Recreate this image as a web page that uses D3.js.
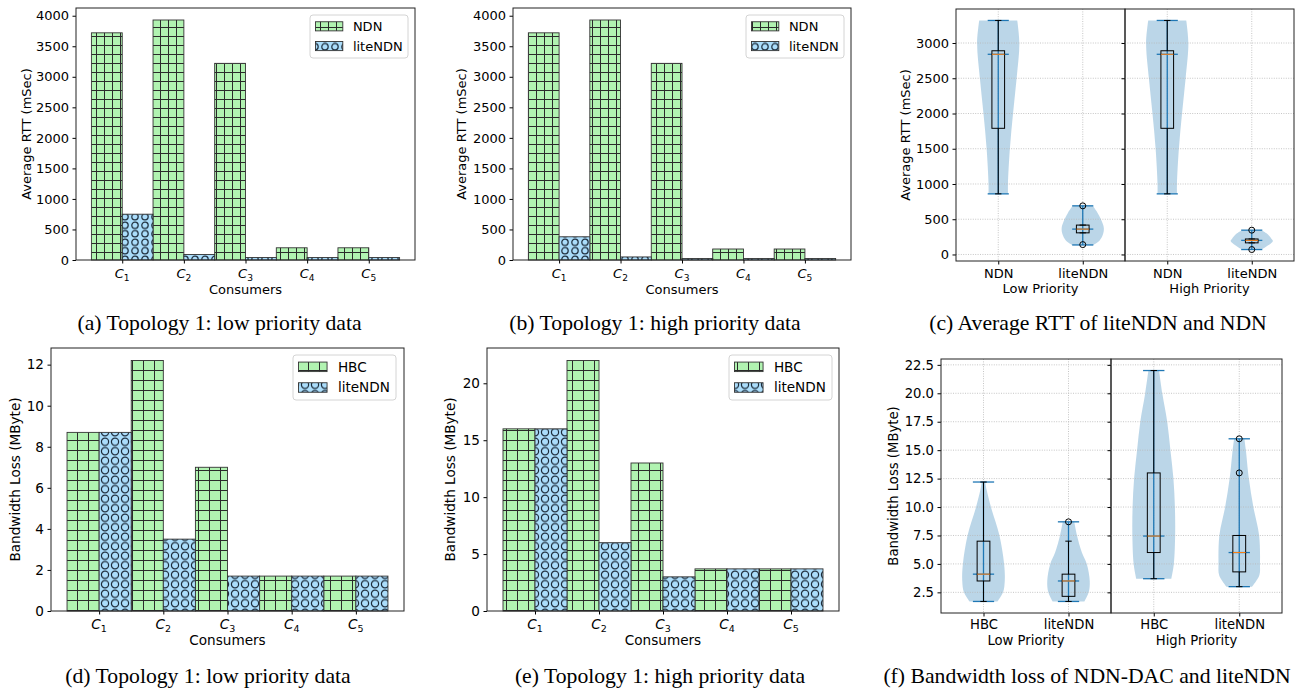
<!DOCTYPE html>
<html lang="en">
<head>
  <meta charset="UTF-8">
  <title>liteNDN evaluation</title>
  <script src="https://d3js.org/d3.v7.min.js"></script>
  <style>
    body { margin: 0; background: white; }
    svg text { font-family: "DejaVu Sans", sans-serif; fill: #000; }
    svg text.caption { font-family: "Liberation Serif", "Times New Roman", serif; font-size: 21.7px; }
  </style>
</head>
<body>
  <svg id="fig" width="1306" height="694"></svg>

  <script>
    // ---- data ----
    var consumers = ["1", "2", "3", "4", "5"];

    // (a) / (b) average RTT per consumer
    var rttLowNDN = [3720, 3930, 3220, 200, 200];
    var rttLowLite = [750, 90, 40, 40, 40];
    var rttHighNDN = [3720, 3930, 3220, 180, 180];
    var rttHighLite = [380, 50, 25, 25, 25];

    // (d) / (e) bandwidth loss per consumer
    var bwLowHBC = [8.7, 12.2, 7.0, 1.7, 1.7];
    var bwLowLite = [8.7, 3.5, 1.7, 1.7, 1.7];
    var bwHighHBC = [16, 22, 13, 3.7, 3.7];
    var bwHighLite = [16, 6.0, 3.0, 3.7, 3.7];

    // violin + box stats: box = [whisker low, q1, median, q3, whisker high]
    // shape = [value, relative half width]
    var rttLowNDNBox = [860, 1790, 2840, 2890, 3320];
    var rttLowNDNShape = [[860, 0.46], [1000, 0.46], [1500, 0.55], [2000, 0.7], [2500, 0.87], [3000, 1.0], [3320, 0.9]];
    var rttLowLiteBox = [307, 307, 360, 417, 417];
    var rttLowLiteShape = [[135, 0.5], [200, 0.8], [280, 0.95], [370, 1.0], [450, 0.93], [585, 0.71], [690, 0.48]];
    var rttLowLiteFliers = [140, 690];
    var rttHighNDNBox = [860, 1790, 2840, 2890, 3320];
    var rttHighNDNShape = [[860, 0.46], [1000, 0.46], [1500, 0.55], [2000, 0.7], [2500, 0.87], [3000, 1.0], [3320, 0.9]];
    var rttHighLiteBox = [165, 165, 200, 220, 220];
    var rttHighLiteShape = [[70, 0.47], [130, 0.78], [190, 1.0], [220, 0.94], [300, 0.7], [345, 0.45]];
    var rttHighLiteFliers = [70, 345];

    var bwLowHBCBox = [1.7, 3.5, 4.1, 7.0, 12.2];
    var bwLowHBCShape = [[1.7, 0.66], [2.5, 0.92], [3.5, 1.0], [5.0, 0.97], [7.5, 0.75], [10.0, 0.35], [11.5, 0.15], [12.2, 0.08]];
    var bwLowLiteBox = [1.7, 2.15, 3.5, 4.1, 7.0];
    var bwLowLiteShape = [[1.7, 0.75], [2.5, 0.95], [3.5, 1.0], [5.0, 0.86], [6.0, 0.63], [7.5, 0.4], [8.7, 0.27]];
    var bwLowLiteFliers = [8.7];
    var bwHighHBCBox = [3.7, 6.0, 7.45, 13.0, 22.0];
    var bwHighHBCShape = [[3.7, 0.82], [5.0, 0.94], [7.5, 1.0], [10, 0.99], [12.5, 0.92], [15, 0.78], [17.5, 0.63], [20, 0.4], [22, 0.25]];
    var bwHighLiteBox = [3.0, 4.3, 6.0, 7.5, 7.5];
    var bwHighLiteShape = [[3.0, 0.6], [4.0, 0.94], [5.0, 0.97], [7.5, 0.93], [10, 0.66], [12.5, 0.45], [15, 0.31], [16, 0.24]];
    var bwHighLiteFliers = [13, 16];

    var green = "#b1f3b1";
    var blue = "#abddfb";
    var c0 = "#1f77b4";
    var c1 = "#ff7f0e";

    var svg = d3.select("#fig");
    var defs = svg.append("defs");

    function plusPattern(id, w, h) {
      var pat = defs.append("pattern").attr("id", id)
        .attr("patternUnits", "userSpaceOnUse").attr("width", w).attr("height", h);
      pat.append("rect").attr("width", w).attr("height", h).attr("fill", green);
      pat.append("line").attr("x1", 0.5).attr("x2", 0.5).attr("y1", 0).attr("y2", h)
        .attr("stroke", "#2a2a2a").attr("stroke-width", 1);
      pat.append("line").attr("y1", 0.5).attr("y2", 0.5).attr("x1", 0).attr("x2", w)
        .attr("stroke", "#2a2a2a").attr("stroke-width", 1);
    }

    function circlePattern(id, w, h, r) {
      var pat = defs.append("pattern").attr("id", id)
        .attr("patternUnits", "userSpaceOnUse").attr("width", w).attr("height", h);
      pat.append("rect").attr("width", w).attr("height", h).attr("fill", blue);
      pat.append("circle").attr("cx", w / 2).attr("cy", h / 2).attr("r", r)
        .attr("fill", "none").attr("stroke", "#1c2b3a").attr("stroke-width", 1.2);
    }

    plusPattern("plusTop", 8, 9);
    circlePattern("circTop", 10, 8.5, 3.2);
    plusPattern("plusBot", 11, 10);
    circlePattern("circBot", 10, 9.5, 3.6);

    function caption(text, x, y) {
      svg.append("text").attr("class", "caption")
        .attr("x", x).attr("y", y).attr("text-anchor", "middle").text(text);
    }

    function styleAxis(sel, fs) {
      sel.select(".domain").remove();
      sel.selectAll("text").style("font-size", fs + "px").style("font-family", "DejaVu Sans");
      sel.selectAll("line").attr("stroke", "#000");
    }

    function drawBars(p) {
      var x = d3.scaleLinear().domain([0.25, 5.75]).range([p.left, p.right]);
      var y = d3.scaleLinear().domain([0, d3.max(p.a.concat(p.b)) * 1.05]).range([p.bottom, p.top]);
      var g = svg.append("g");
      var bw = x(1) - x(0.5);

      g.selectAll(".barA").data(p.a).join("rect")
        .attr("x", (d, i) => x(i + 0.5)).attr("width", bw)
        .attr("y", d => y(d)).attr("height", d => y(0) - y(d))
        .attr("fill", "url(#" + p.plus + ")").attr("stroke", "#333").attr("stroke-width", 0.9);
      g.selectAll(".barB").data(p.b).join("rect")
        .attr("x", (d, i) => x(i + 1)).attr("width", bw)
        .attr("y", d => y(d)).attr("height", d => y(0) - y(d))
        .attr("fill", "url(#" + p.circ + ")").attr("stroke", "#333").attr("stroke-width", 0.9);

      var ax = g.append("g").attr("transform", "translate(0," + p.bottom + ")")
        .call(d3.axisBottom(x).tickValues([1, 2, 3, 4, 5]).tickFormat("").tickSize(3.5));
      styleAxis(ax, p.fs);
      var ay = g.append("g").attr("transform", "translate(" + p.left + ",0)")
        .call(d3.axisLeft(y).tickValues(p.ticks).tickFormat(p.fmt).tickSize(3.5).tickPadding(3.5));
      styleAxis(ay, p.fs);

      g.append("rect").attr("x", p.left).attr("y", p.top)
        .attr("width", p.right - p.left).attr("height", p.bottom - p.top)
        .attr("fill", "none").attr("stroke", "#222").attr("stroke-width", 1);

      // C_i tick labels
      g.selectAll(".xt").data(consumers).join("text")
        .attr("x", (d, i) => x(i + 1)).attr("y", p.bottom + 18)
        .attr("text-anchor", "middle").style("font-size", p.fs + "px")
        .each(function (d) {
          var t = d3.select(this);
          t.append("tspan").style("font-style", "italic").text("C");
          t.append("tspan").style("font-size", (p.fs * 0.7) + "px").attr("dy", 3).text(d);
        });

      g.append("text").attr("x", (p.left + p.right) / 2).attr("y", p.bottom + 34)
        .attr("text-anchor", "middle").style("font-size", p.fs + "px").text("Consumers");
      g.append("text")
        .attr("transform", "translate(" + p.ylabelX + "," + ((p.top + p.bottom) / 2) + ") rotate(-90)")
        .attr("text-anchor", "middle").style("font-size", p.fs + "px").text(p.ylabel);

      // legend
      var L = p.legend;
      g.append("rect").attr("x", L.x).attr("y", L.y).attr("width", L.w).attr("height", L.h)
        .attr("rx", 3).attr("fill", "white").attr("fill-opacity", 0.8)
        .attr("stroke", "#d4d4d4").attr("stroke-width", 1);
      var rows = [{ name: p.names[0], fill: p.plus }, { name: p.names[1], fill: p.circ }];
      rows.forEach(function (r, i) {
        var cy = L.y + 0.87 * p.fs + i * 1.52 * p.fs;
        g.append("rect").attr("x", L.x + 5.5).attr("y", cy - 0.35 * p.fs)
          .attr("width", 2.1 * p.fs).attr("height", 0.7 * p.fs)
          .attr("fill", "url(#" + r.fill + ")").attr("stroke", "#333").attr("stroke-width", 0.9);
        g.append("text").attr("x", L.x + 3.3 * p.fs).attr("y", cy).attr("dy", "0.36em")
          .style("font-size", p.fs + "px").text(r.name);
      });

      caption(p.caption, p.capX, p.capY);
    }

    function drawViolins(p) {
      var all = [];
      p.subs.forEach(s => s.dists.forEach(d => {
        d.shape.forEach(v => all.push(v[0]));
        (d.fliers || []).forEach(v => all.push(v));
      }));
      var lo = d3.min(all), hi = d3.max(all), pad = (hi - lo) * 0.05;
      var y = d3.scaleLinear().domain([lo - pad, hi + pad]).range([p.bottom, p.top]);

      p.subs.forEach(function (s, k) {
        var x = d3.scaleLinear().domain([0.5, 2.5]).range([s.left, s.right]);
        var u = x(1) - x(0);
        var g = svg.append("g");

        // violin bodies
        s.dists.forEach(function (d, i) {
          var cx = x(i + 1);
          var area = d3.area().curve(d3.curveCatmullRom)
            .y(v => y(v[0])).x0(v => cx - v[1] * 0.25 * u).x1(v => cx + v[1] * 0.25 * u);
          g.append("path").attr("d", area(d.shape)).attr("fill", c0).attr("fill-opacity", 0.3);
        });

        // grid
        g.selectAll(".gy").data(p.ticks).join("line")
          .attr("x1", s.left).attr("x2", s.right).attr("y1", d => y(d)).attr("y2", d => y(d))
          .attr("stroke", "#b8b8b8").attr("stroke-width", 0.8).attr("stroke-dasharray", "1,1.4");
        g.selectAll(".gx").data([1, 2]).join("line")
          .attr("x1", d => x(d)).attr("x2", d => x(d)).attr("y1", p.top).attr("y2", p.bottom)
          .attr("stroke", "#b8b8b8").attr("stroke-width", 0.8).attr("stroke-dasharray", "1,1.4");

        s.dists.forEach(function (d, i) {
          var cx = x(i + 1);
          var vmin = d.shape[0][0], vmax = d.shape[d.shape.length - 1][0];
          var b = d.box;
          // violin extrema / median lines
          g.append("line").attr("x1", cx).attr("x2", cx).attr("y1", y(vmin)).attr("y2", y(vmax))
            .attr("stroke", c0).attr("stroke-width", 1.3);
          [vmin, vmax, b[2]].forEach(v => {
            g.append("line").attr("x1", cx - 0.125 * u).attr("x2", cx + 0.125 * u)
              .attr("y1", y(v)).attr("y2", y(v)).attr("stroke", c0).attr("stroke-width", 1.3);
          });
          // box plot
          g.append("line").attr("x1", cx).attr("x2", cx).attr("y1", y(b[0])).attr("y2", y(b[1]))
            .attr("stroke", "#000").attr("stroke-width", 1);
          g.append("line").attr("x1", cx).attr("x2", cx).attr("y1", y(b[3])).attr("y2", y(b[4]))
            .attr("stroke", "#000").attr("stroke-width", 1);
          [b[0], b[4]].forEach(v => {
            g.append("line").attr("x1", cx - 0.0375 * u).attr("x2", cx + 0.0375 * u)
              .attr("y1", y(v)).attr("y2", y(v)).attr("stroke", "#000").attr("stroke-width", 1);
          });
          g.append("rect").attr("x", cx - 0.075 * u).attr("width", 0.15 * u)
            .attr("y", y(b[3])).attr("height", y(b[1]) - y(b[3]))
            .attr("fill", "none").attr("stroke", "#000").attr("stroke-width", 1);
          g.append("line").attr("x1", cx - 0.075 * u).attr("x2", cx + 0.075 * u)
            .attr("y1", y(b[2])).attr("y2", y(b[2])).attr("stroke", c1).attr("stroke-width", 1);
          (d.fliers || []).forEach(v => {
            g.append("circle").attr("cx", cx).attr("cy", y(v)).attr("r", 3)
              .attr("fill", "none").attr("stroke", "#000").attr("stroke-width", 1);
          });
        });

        var ax = g.append("g").attr("transform", "translate(0," + p.bottom + ")")
          .call(d3.axisBottom(x).tickValues([1, 2]).tickFormat((d, i) => s.names[i]).tickSize(3.5).tickPadding(3.5));
        styleAxis(ax, p.fs);
        ax.selectAll("text").attr("dy", null).attr("y", p.tickDy);
        var ay = g.append("g").attr("transform", "translate(" + s.left + ",0)")
          .call(d3.axisLeft(y).tickValues(p.ticks).tickFormat(k == 0 ? p.fmt : "").tickSize(3.5).tickPadding(3.5));
        styleAxis(ay, p.fs);

        g.append("rect").attr("x", s.left).attr("y", p.top)
          .attr("width", s.right - s.left).attr("height", p.bottom - p.top)
          .attr("fill", "none").attr("stroke", "#222").attr("stroke-width", 1);

        g.append("text").attr("x", (s.left + s.right) / 2).attr("y", p.bottom + 32)
          .attr("text-anchor", "middle").style("font-size", p.fs + "px").text(s.xlabel);
      });

      svg.append("text")
        .attr("transform", "translate(" + p.ylabelX + "," + ((p.top + p.bottom) / 2) + ") rotate(-90)")
        .attr("text-anchor", "middle").style("font-size", p.fs + "px").text(p.ylabel);
      caption(p.caption, p.capX, p.capY);
    }

    drawBars({
      left: 76, right: 415, top: 8, bottom: 260, fs: 13,
      a: rttLowNDN, b: rttLowLite, names: ["NDN", "liteNDN"],
      ticks: d3.range(0, 4001, 500), fmt: d3.format("d"),
      ylabel: "Average RTT (mSec)", ylabelX: 31,
      plus: "plusTop", circ: "circTop", legend: { x: 310, y: 15, w: 98, h: 43 },
      caption: "(a) Topology 1: low priority data", capX: 219.5, capY: 330
    });

    drawBars({
      left: 513, right: 851, top: 8, bottom: 260, fs: 13,
      a: rttHighNDN, b: rttHighLite, names: ["NDN", "liteNDN"],
      ticks: d3.range(0, 4001, 500), fmt: d3.format("d"),
      ylabel: "Average RTT (mSec)", ylabelX: 466,
      plus: "plusTop", circ: "circTop", legend: { x: 746, y: 15, w: 98, h: 43 },
      caption: "(b) Topology 1: high priority data", capX: 655, capY: 330
    });

    drawBars({
      left: 51, right: 404, top: 348, bottom: 611, fs: 13.6,
      a: bwLowHBC, b: bwLowLite, names: ["HBC", "liteNDN"],
      ticks: d3.range(0, 12.1, 2), fmt: d3.format("d"),
      ylabel: "Bandwidth Loss (MByte)", ylabelX: 19.5,
      plus: "plusBot", circ: "circBot", legend: { x: 293, y: 355, w: 103, h: 45 },
      caption: "(d) Topology 1: low priority data", capX: 208, capY: 683
    });

    drawBars({
      left: 487, right: 839, top: 348, bottom: 611, fs: 13.6,
      a: bwHighHBC, b: bwHighLite, names: ["HBC", "liteNDN"],
      ticks: d3.range(0, 20.1, 5), fmt: d3.format("d"),
      ylabel: "Bandwidth Loss (MByte)", ylabelX: 455,
      plus: "plusBot", circ: "circBot", legend: { x: 729, y: 355, w: 103, h: 45 },
      caption: "(e) Topology 1: high priority data", capX: 660, capY: 683
    });

    drawViolins({
      top: 9, bottom: 261, fs: 13, tickDy: 17,
      ticks: d3.range(0, 3001, 500), fmt: d3.format("d"),
      ylabel: "Average RTT (mSec)", ylabelX: 910,
      subs: [
        { left: 956, right: 1125, xlabel: "Low Priority", names: ["NDN", "liteNDN"],
          dists: [{ box: rttLowNDNBox, shape: rttLowNDNShape },
                  { box: rttLowLiteBox, shape: rttLowLiteShape, fliers: rttLowLiteFliers }] },
        { left: 1125, right: 1294, xlabel: "High Priority", names: ["NDN", "liteNDN"],
          dists: [{ box: rttHighNDNBox, shape: rttHighNDNShape },
                  { box: rttHighLiteBox, shape: rttHighLiteShape, fliers: rttHighLiteFliers }] }
      ],
      caption: "(c) Average RTT of liteNDN and NDN", capX: 1098, capY: 330
    });

    drawViolins({
      top: 359, bottom: 613, fs: 13.2, tickDy: 16,
      ticks: d3.range(2.5, 22.51, 2.5), fmt: d3.format(".1f"),
      ylabel: "Bandwidth Loss (MByte)", ylabelX: 898,
      subs: [
        { left: 941, right: 1111, xlabel: "Low Priority", names: ["HBC", "liteNDN"],
          dists: [{ box: bwLowHBCBox, shape: bwLowHBCShape },
                  { box: bwLowLiteBox, shape: bwLowLiteShape, fliers: bwLowLiteFliers }] },
        { left: 1111, right: 1282, xlabel: "High Priority", names: ["HBC", "liteNDN"],
          dists: [{ box: bwHighHBCBox, shape: bwHighHBCShape },
                  { box: bwHighLiteBox, shape: bwHighLiteShape, fliers: bwHighLiteFliers }] }
      ],
      caption: "(f) Bandwidth loss of NDN-DAC and liteNDN", capX: 1087, capY: 683
    });
  </script>
</body>
</html>
